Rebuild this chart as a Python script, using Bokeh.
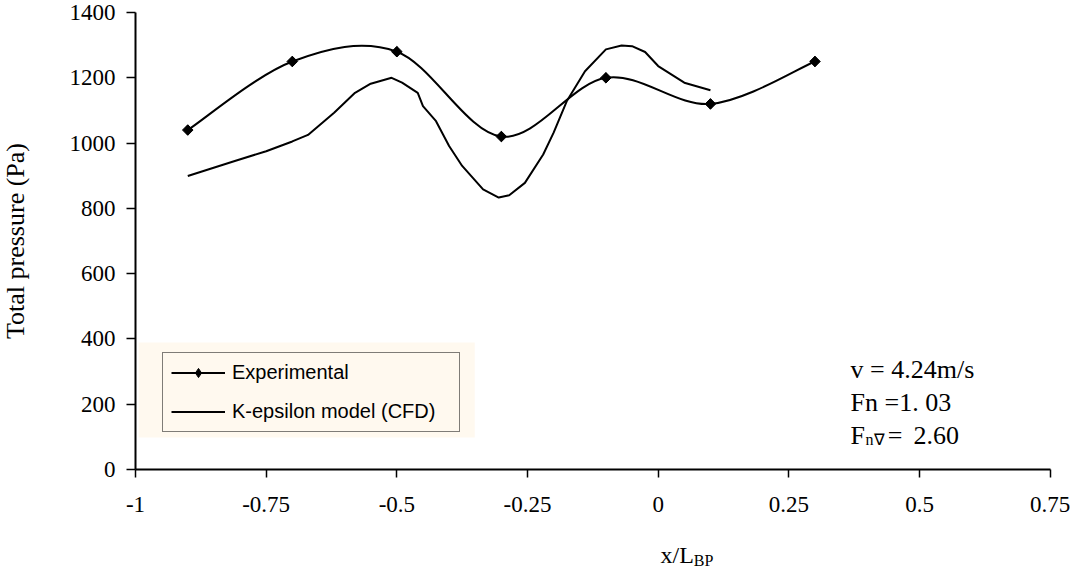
import numpy as np
from bokeh.plotting import figure
from bokeh.models import Range1d, Label, Legend, LegendItem, BoxAnnotation, FixedTicker
from bokeh.embed import file_html
from bokeh.resources import INLINE

# ---- data ----
x_ticks = [-1, -0.75, -0.5, -0.25, 0, 0.25, 0.5, 0.75]
x_tick_labels = ["-1", "-0.75", "-0.5", "-0.25", "0", "0.25", "0.5", "0.75"]
y_ticks = [0, 200, 400, 600, 800, 1000, 1200, 1400]

exp_x = [-0.9, -0.7, -0.5, -0.3, -0.1, 0.1, 0.3]
exp_y = [1040, 1250, 1280, 1020, 1200, 1120, 1250]

cfd_x = [-0.9, -0.81, -0.75, -0.70, -0.67, -0.62, -0.58, -0.55, -0.51, -0.49,
         -0.46, -0.45, -0.425, -0.40, -0.375, -0.355, -0.335, -0.305, -0.285,
         -0.255, -0.22, -0.20, -0.175, -0.14, -0.10, -0.07, -0.05, -0.025,
         0.0, 0.05, 0.1]
cfd_y = [899, 945, 975, 1005, 1025, 1093, 1154, 1182, 1200, 1185,
         1154, 1113, 1067, 991, 930, 894, 858, 833, 840,
         878, 965, 1032, 1128, 1220, 1287, 1299, 1297, 1279,
         1236, 1185, 1162]

SERIF = "Liberation Serif"
SANS = "Liberation Sans"

# the frame covers the whole canvas; both axes are pinned at x=-1 / y=0
p = figure(width=1071, height=572,
           x_range=Range1d(-1.2583, 0.7908), y_range=Range1d(-315.5, 1436.8),
           output_backend="svg", toolbar_location=None,
           min_border_left=0, min_border_right=0,
           min_border_top=0, min_border_bottom=0)
p.outline_line_color = None
p.grid.visible = False
p.background_fill_color = "white"

for ax in (p.xaxis[0], p.yaxis[0]):
    ax.axis_line_width = 2
    ax.axis_line_color = "black"
    ax.major_tick_in = 0
    ax.minor_tick_in = 0
    ax.minor_tick_out = 0
    ax.major_tick_line_width = 1.5
    ax.major_tick_line_color = "black"
    ax.major_label_text_font = SERIF
    ax.major_label_text_font_size = "23px"
    ax.major_label_text_color = "black"

p.xaxis.fixed_location = 0
p.xaxis.bounds = (-1, 0.75)
p.xaxis.ticker = FixedTicker(ticks=x_ticks)
p.xaxis.major_label_overrides = {t: s for t, s in zip(x_ticks, x_tick_labels)}
p.xaxis.major_tick_out = 8
p.xaxis.major_label_standoff = 19

p.yaxis.fixed_location = -1
p.yaxis.bounds = (0, 1400)
p.yaxis.ticker = FixedTicker(ticks=y_ticks)
p.yaxis.major_label_overrides = {t: str(t) for t in y_ticks}
p.yaxis.major_tick_out = 9
p.yaxis.major_label_standoff = 11
p.yaxis.axis_label = "Total pressure (Pa)"
p.yaxis.axis_label_text_font = SERIF
p.yaxis.axis_label_text_font_size = "26px"
p.yaxis.axis_label_text_font_style = "normal"
p.yaxis.axis_label_text_color = "black"
p.yaxis.axis_label_standoff = 37

# cream area behind legend
p.add_layout(BoxAnnotation(left=-0.994, right=-0.351, bottom=98, top=389,
                           fill_color="#FFF9EF", fill_alpha=1, line_color=None,
                           level="underlay"))

# CFD curve
cfd = p.line(cfd_x, cfd_y, line_color="black", line_width=2)

# Experimental smoothed curve (Bezier segments through the data points)
ex = np.array(exp_x, dtype=float)
ey = np.array(exp_y, dtype=float)
n = len(ex)
idx = np.arange(n - 1)
i0 = np.clip(idx - 1, 0, n - 1)
i1 = idx
i2 = idx + 1
i3 = np.clip(idx + 2, 0, n - 1)
cx0 = ex[i1] + (ex[i2] - ex[i0]) / 6
cy0 = ey[i1] + (ey[i2] - ey[i0]) / 6
cx1 = ex[i2] - (ex[i3] - ex[i1]) / 6
cy1 = ey[i2] - (ey[i3] - ey[i1]) / 6
bez = p.bezier(x0=ex[i1], y0=ey[i1], x1=ex[i2], y1=ey[i2],
               cx0=cx0, cy0=cy0, cx1=cx1, cy1=cy1,
               line_color="black", line_width=2)
exp_dia = p.scatter(exp_x, exp_y, marker="diamond", size=10,
                    fill_color="black", line_color="black")
exp_sc = p.scatter(exp_x, exp_y, marker="square", angle=np.pi / 4, size=7.5,
                   fill_color="black", line_color="black")

legend = Legend(items=[LegendItem(label="Experimental", renderers=[bez, exp_dia]),
                       LegendItem(label="K-epsilon model (CFD)", renderers=[cfd])],
                location=(162, 140), margin=0, padding=8, spacing=16,
                glyph_width=54, glyph_height=23, label_height=23, label_width=219,
                label_standoff=7, label_text_font=SANS, label_text_font_size="20px",
                label_text_color="black",
                border_line_color="black", border_line_width=1.5,
                background_fill_color="#FFF9EF", background_fill_alpha=1)
p.add_layout(legend)

# annotations
ann_font = "26px"
def lab(x, y, text, size=ann_font):
    p.add_layout(Label(x=x, y=y, text=text, text_font=SERIF, text_color="black",
                       text_font_size=size, text_baseline="alphabetic"))

lab(0.3680, 306, "v = 4.24m/s")
lab(0.3680, 205, "Fn =1. 03")
lab(0.3680, 104, "F")
lab(0.3967, 91, "n∇", "16px")
lab(0.4390, 104, "=")
lab(0.4885, 104, "2.60")

# x axis label with subscript
lab(0.0045, -262, "x/L", "24px")
lab(0.0680, -278, "BP", "16px")

open("out.html", "w").write(file_html(p, INLINE))
